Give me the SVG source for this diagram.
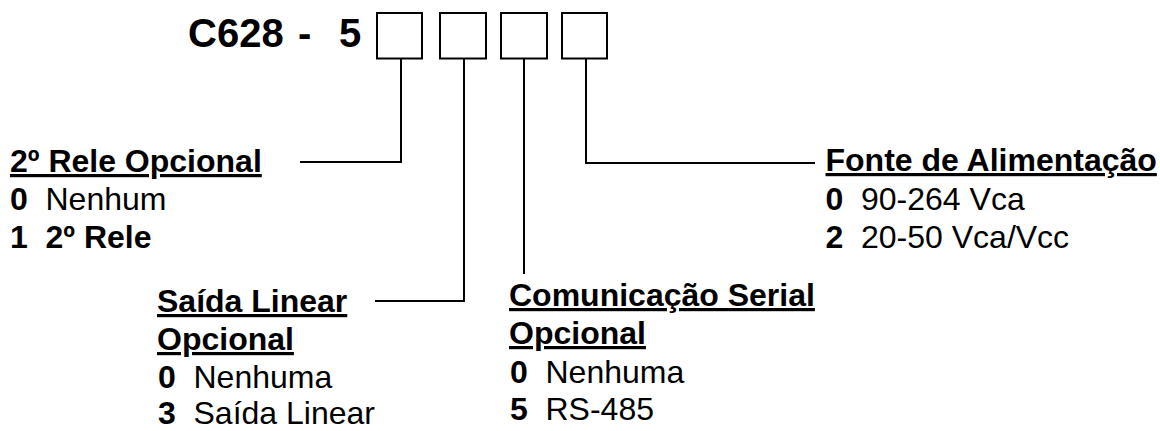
<svg xmlns="http://www.w3.org/2000/svg" width="1160" height="431" viewBox="0 0 1160 431">
  <style>
    text { font-family: "Liberation Sans", Arial, sans-serif; font-size: 32px; fill: #000; }
    .b { font-weight: bold; }
    .u { text-decoration: underline; }
    .title { font-size: 40px; font-weight: bold; }
    .box { fill: #fff; stroke: #000; stroke-width: 2; }
    .conn { fill: none; stroke: #000; stroke-width: 2; }
  </style>
  <rect x="0" y="0" width="1160" height="431" fill="#fff"/>

  <g id="code">
    <text class="title" x="188" y="47">C628 <tspan x="298">-</tspan> <tspan x="339">5</tspan></text>
    <rect class="box" x="377" y="13" width="45" height="45.5"/>
    <rect class="box" x="440" y="13" width="46" height="45.5"/>
    <rect class="box" x="501" y="13" width="46" height="45.5"/>
    <rect class="box" x="562" y="13" width="45" height="45.5"/>
  </g>

  <g id="connectors">
    <polyline class="conn" points="401,58.5 401,162 300,162"/>
    <polyline class="conn" points="464,58.5 464,301 375,301"/>
    <polyline class="conn" points="524,58.5 524,274"/>
    <polyline class="conn" points="586,58.5 586,163 815,163"/>
  </g>

  <g id="rele">
    <text class="b u" x="10" y="172">2º Rele Opcional</text>
    <text y="210"><tspan class="b" x="10">0</tspan> <tspan x="45.5">Nenhum</tspan></text>
    <text class="b" y="248"><tspan x="10">1</tspan> <tspan x="45.5">2º Rele</tspan></text>
  </g>

  <g id="saida">
    <text class="b u" x="157" y="312">Saída Linear</text>
    <text class="b u" x="157" y="350">Opcional</text>
    <text y="387.5"><tspan class="b" x="158">0</tspan> <tspan x="193.5">Nenhuma</tspan></text>
    <text y="424"><tspan class="b" x="158">3</tspan> <tspan x="193.5">Saída Linear</tspan></text>
  </g>

  <g id="serial">
    <text class="b u" x="509" y="306">Comunicação Serial</text>
    <text class="b u" x="509" y="344">Opcional</text>
    <text y="382.5"><tspan class="b" x="510">0</tspan> <tspan x="545.5">Nenhuma</tspan></text>
    <text y="419.5"><tspan class="b" x="510">5</tspan> <tspan x="545.5">RS-485</tspan></text>
  </g>

  <g id="fonte">
    <text class="b u" x="825.5" y="171">Fonte de Alimentação</text>
    <text y="210"><tspan class="b" x="825.5">0</tspan> <tspan x="861">90-264 Vca</tspan></text>
    <text y="248"><tspan class="b" x="825.5">2</tspan> <tspan x="861">20-50 Vca/Vcc</tspan></text>
  </g>
</svg>
